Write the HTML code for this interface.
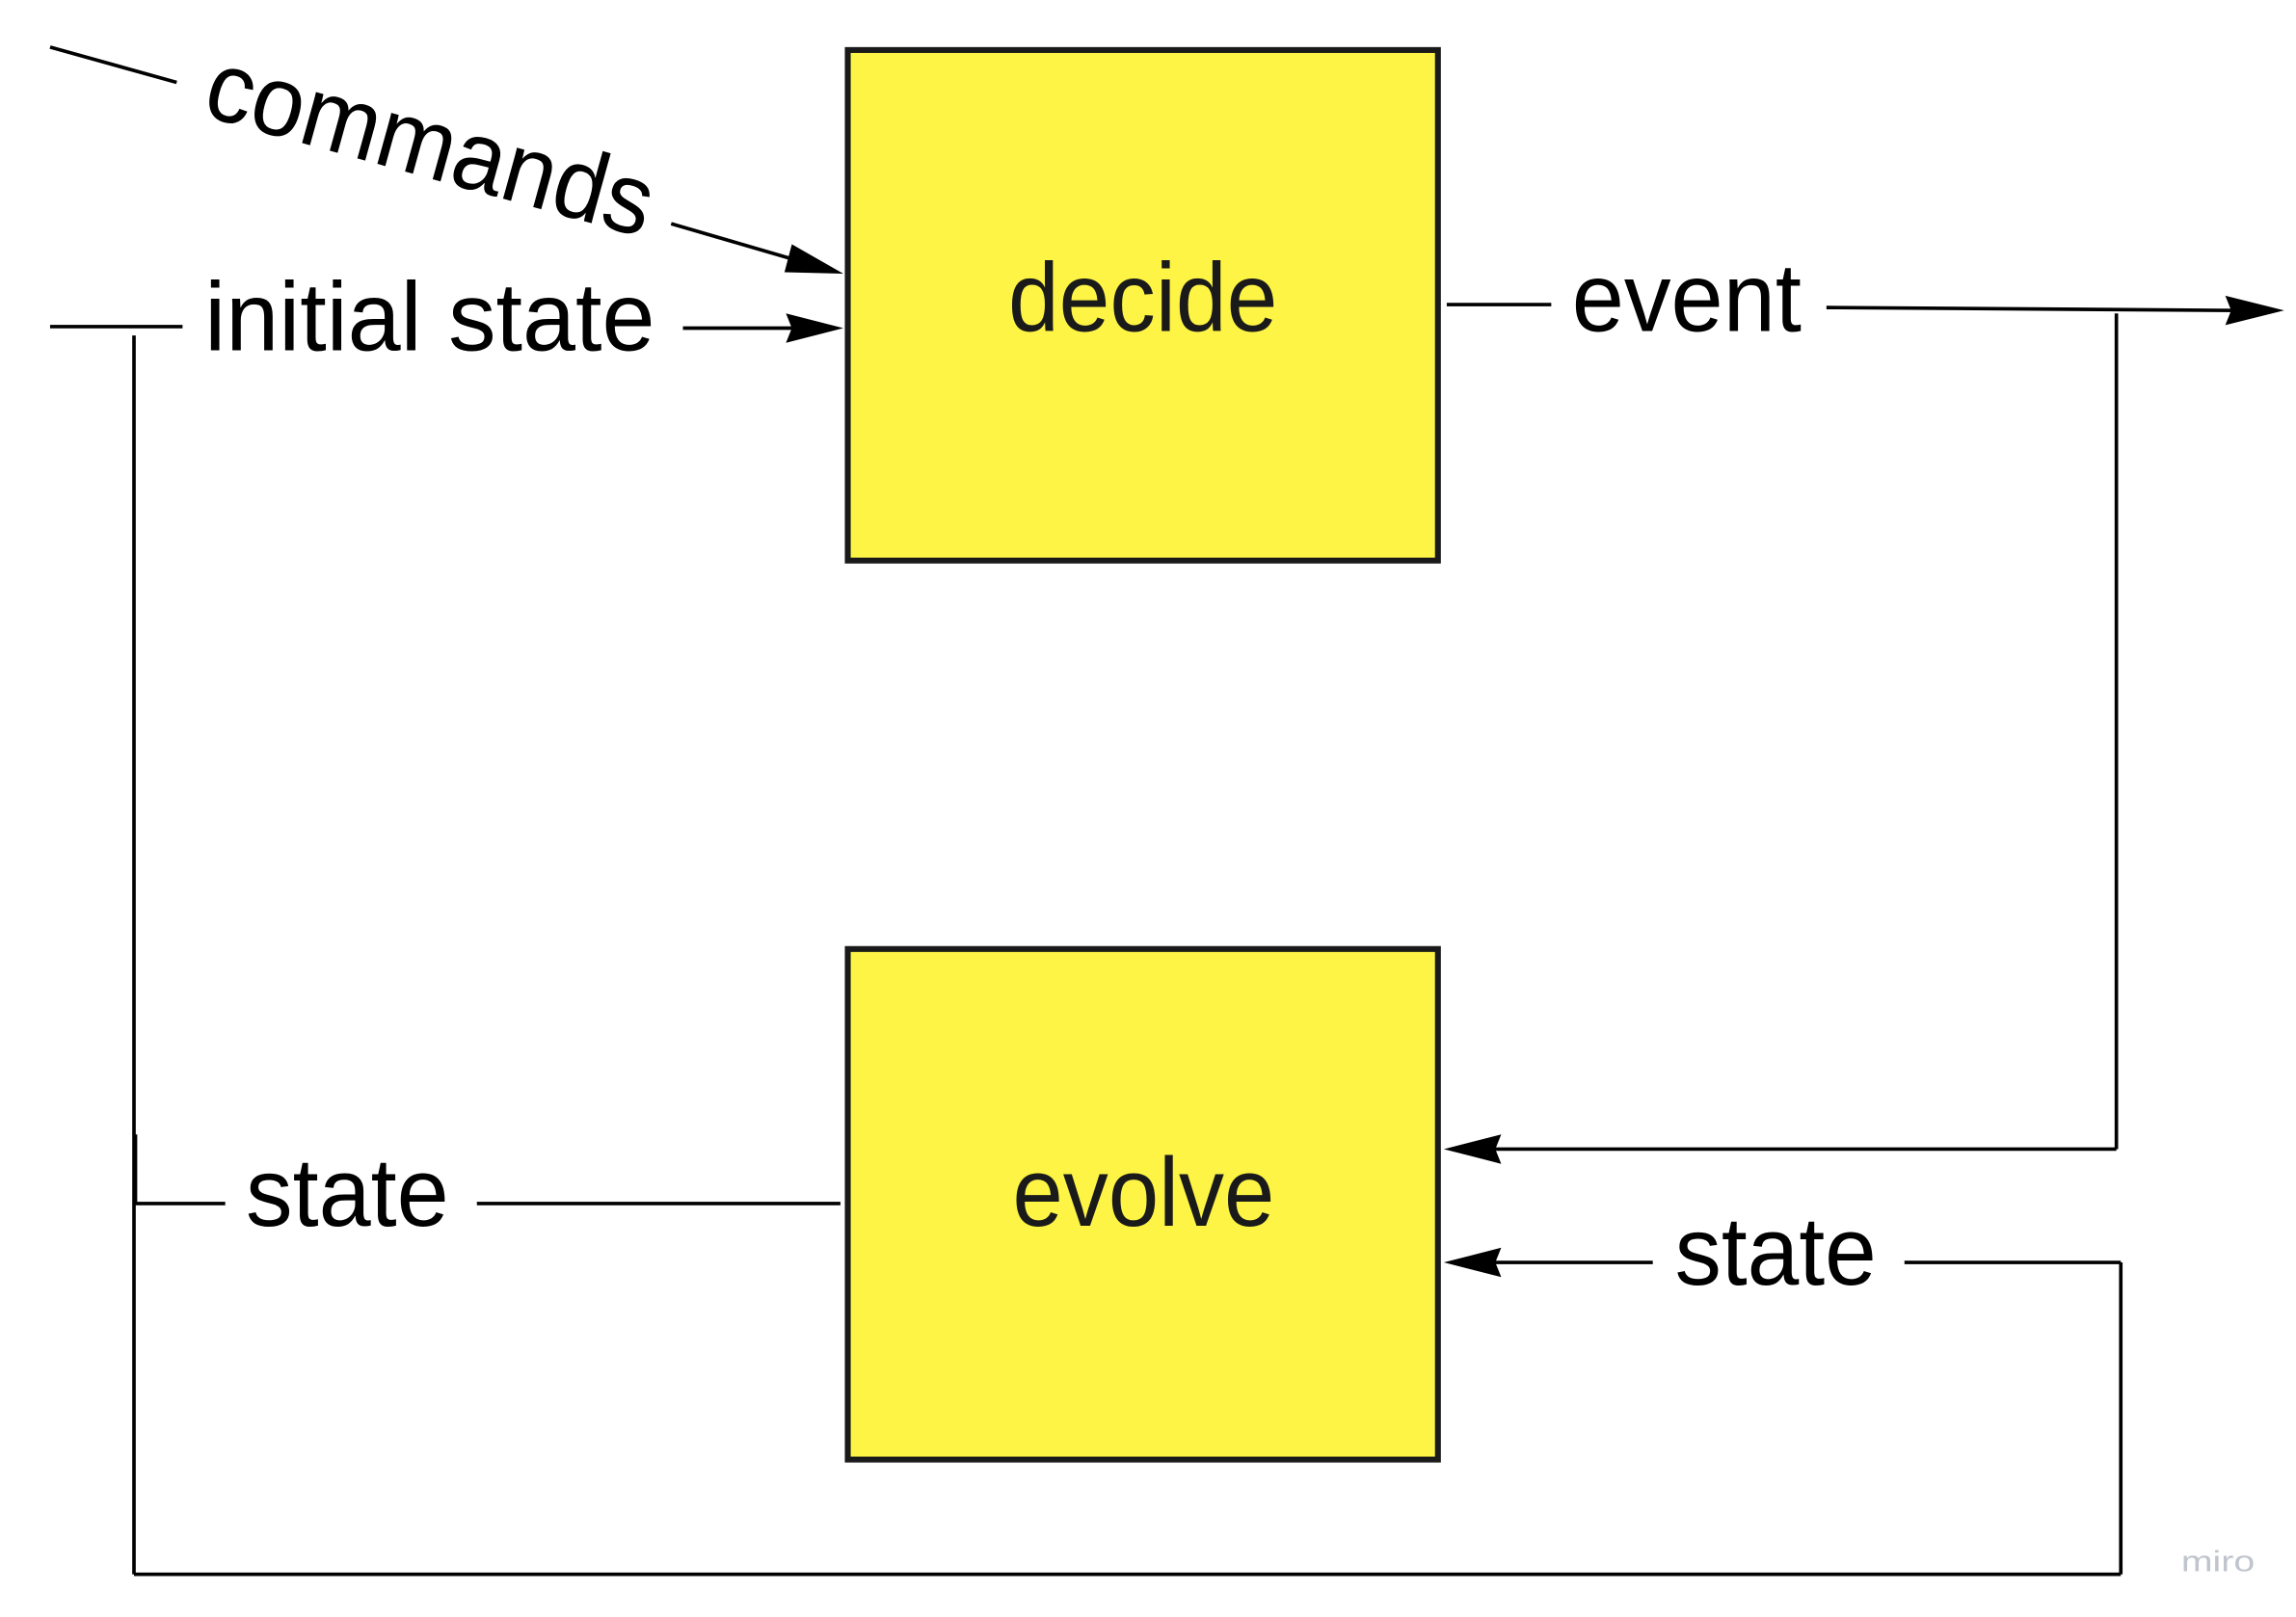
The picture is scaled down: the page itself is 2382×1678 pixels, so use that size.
<!DOCTYPE html>
<html><head><style>html,body{margin:0;padding:0;background:#fff}svg{display:block}</style></head>
<body>
<svg width="2382" height="1678" viewBox="0 0 1560 1099" xmlns="http://www.w3.org/2000/svg" font-family="'Liberation Sans', sans-serif" fill="#000">
<rect x="576" y="34" width="401" height="347" fill="#fef445" stroke="#1a1a1a" stroke-width="4"/>
<rect x="576" y="645" width="401" height="347" fill="#fef445" stroke="#1a1a1a" stroke-width="4"/>
<g stroke="#000" stroke-width="2.4" fill="none">
<line x1="34" y1="32" x2="120" y2="56"/>
<line x1="456" y1="152" x2="545" y2="178"/>
<line x1="34" y1="222" x2="124" y2="222"/>
<line x1="464" y1="223" x2="540" y2="223"/>
<line x1="91" y1="228" x2="91" y2="1070"/>
<line x1="92" y1="771" x2="92" y2="818"/>
<line x1="91" y1="1070" x2="1441" y2="1070"/>
<line x1="1441" y1="858" x2="1441" y2="1070"/>
<line x1="1294" y1="858" x2="1441" y2="858"/>
<line x1="1015" y1="858" x2="1123" y2="858"/>
<line x1="983" y1="207" x2="1054" y2="207"/>
<line x1="1241" y1="209" x2="1520" y2="211"/>
<line x1="1438" y1="213" x2="1438" y2="781"/>
<line x1="1015" y1="781" x2="1438" y2="781"/>
<line x1="91" y1="818" x2="153" y2="818"/>
<line x1="324" y1="818" x2="571" y2="818"/>
</g>
<polygon points="573,186 533,185 538,166"/>
<polygon points="573,223 534,233 538,223 534,213"/>
<polygon points="1552,211 1512,221 1516,211 1512,201"/>
<polygon points="981,781 1020,771 1016,781 1020,791"/>
<polygon points="981,858 1020,848 1016,858 1020,868"/>
<g font-size="66">
<text x="136" y="78" font-size="68" transform="rotate(15.5 136 78)" textLength="312" lengthAdjust="spacingAndGlyphs">commands</text>
<text x="139" y="238" textLength="306" lengthAdjust="spacingAndGlyphs">initial state</text>
<text x="685" y="225" textLength="183" lengthAdjust="spacingAndGlyphs" fill="#1a1a1a">decide</text>
<text x="1068" y="225" textLength="156" lengthAdjust="spacingAndGlyphs">event</text>
<text x="167" y="833" textLength="138" lengthAdjust="spacingAndGlyphs">state</text>
<text x="688" y="833" textLength="178" lengthAdjust="spacingAndGlyphs" fill="#1a1a1a">evolve</text>
<text x="1138" y="873" textLength="137" lengthAdjust="spacingAndGlyphs">state</text>
</g>
<text x="1482" y="1068" font-size="20" fill="#c0c4cc" textLength="50" lengthAdjust="spacingAndGlyphs">miro</text>
</svg>
</body></html>
